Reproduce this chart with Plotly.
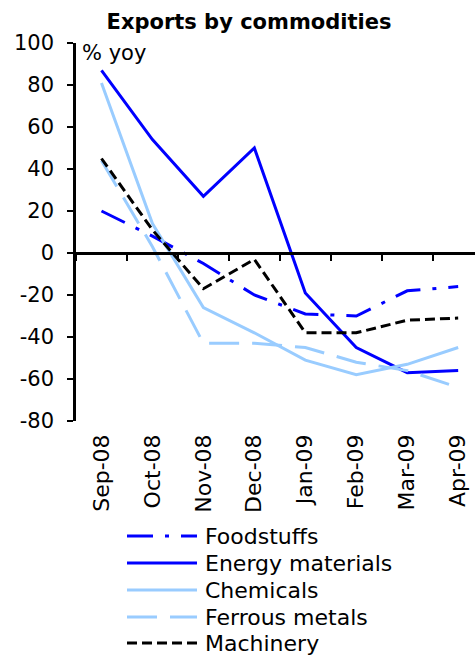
import plotly.graph_objects as go

# Monthly export growth by commodity group, % yoy
months = ["Sep-08", "Oct-08", "Nov-08", "Dec-08", "Jan-09", "Feb-09", "Mar-09", "Apr-09"]
foodstuffs = [20, 8, -5, -20, -29, -30, -18, -16]
energy = [87, 54, 27, 50, -19, -45, -57, -56]
chemicals = [81, 14, -26, -38, -51, -58, -53, -45]
ferrous = [44, 3, -43, -43, -45, -52, -56, -64]
machinery = [45, 11, -17, -3, -38, -38, -32, -31]
y_ticks = [-80, -60, -40, -20, 0, 20, 40, 60, 80, 100]

series_names = ["Foodstuffs", "Energy materials", "Chemicals", "Ferrous metals", "Machinery"]
series_values = [foodstuffs, energy, chemicals, ferrous, machinery]

BLUE = "#0000FF"
LIGHT = "#99CCFF"
styles = [
    dict(color=BLUE, width=3, dash="26px,12px,4px,12px"),
    dict(color=BLUE, width=3, dash="solid"),
    dict(color=LIGHT, width=3, dash="solid"),
    dict(color=LIGHT, width=3, dash="30px,13px"),
    dict(color="black", width=3, dash="10px,5px"),
]

FONT = "DejaVu Sans"
W, H = 475, 657
ML, MR, MT, MB = 76, 0, 43, 236
PW, PH = W - ML - MR, H - MT - MB
X_RANGE = [-0.5, 7.33]
Y_RANGE = [-80, 100]

xpos = list(range(len(months)))

fig = go.Figure()
for name, vals, st in zip(series_names, series_values, styles):
    fig.add_trace(go.Scatter(x=xpos, y=vals, name=name, mode="lines",
                             line=st, showlegend=False, hoverinfo="skip"))

# carrier trace for the overlay axis that draws the zero line
fig.add_trace(go.Scatter(x=xpos, y=[None] * len(xpos), xaxis="x2",
                         showlegend=False, hoverinfo="skip"))

zero_frac = (0 - Y_RANGE[0]) / (Y_RANGE[1] - Y_RANGE[0])

fig.update_layout(
    width=W, height=H,
    margin=dict(l=ML, r=MR, t=MT, b=MB, pad=0),
    paper_bgcolor="white", plot_bgcolor="white",
    font=dict(family=FONT, size=21, color="black"),
    showlegend=False,
    title=dict(text="<b>Exports by commodities</b>", x=249 / W, xanchor="center",
               y=1 - 22 / H, yanchor="middle", yref="container",
               font=dict(family=FONT, size=21, color="black")),
    xaxis=dict(range=X_RANGE, tickmode="array", tickvals=xpos, ticktext=months,
               tickangle=-90, showline=False, showgrid=False, zeroline=False,
               ticks="", ticklabelstandoff=8, fixedrange=True,
               tickfont=dict(family=FONT, size=22)),
    xaxis2=dict(range=X_RANGE, overlaying="x", anchor="free", position=zero_frac,
                side="bottom", showline=True, linecolor="black", linewidth=2.5,
                ticks="outside", ticklen=6, tickwidth=2, tickcolor="black",
                tickmode="array", tickvals=[v - 0.5 for v in xpos] + [len(xpos) - 0.5],
                showticklabels=False, showgrid=False, zeroline=False),
    yaxis=dict(range=Y_RANGE, tickmode="array", tickvals=y_ticks,
               ticktext=[str(v) for v in y_ticks],
               showline=True, linecolor="black",
               linewidth=2.5, ticks="outside", ticklen=6, tickwidth=2, tickcolor="black",
               showgrid=False, zeroline=False, ticklabelstandoff=9),
)

fig.add_annotation(text="% yoy", xref="paper", yref="paper", x=4 / PW, y=1.0 + 4 / PH,
                   xanchor="left", yanchor="top", showarrow=False,
                   font=dict(family=FONT, size=21, color="black"))

# legend drawn below the chart
row_y = [536, 563, 590, 617, 643]
line_x0, line_x1, text_x = 127, 197, 203
for name, st, py in zip(series_names, styles, row_y):
    yp = (H - MB - py) / PH
    fig.add_shape(type="line", xref="paper", yref="paper",
                  x0=(line_x0 - ML) / PW, x1=(line_x1 - ML) / PW, y0=yp, y1=yp,
                  line=dict(color=st["color"], width=st["width"], dash=st["dash"]))
    fig.add_annotation(text=name, xref="paper", yref="paper", x=(text_x - ML) / PW, y=yp,
                       xanchor="left", yanchor="middle", showarrow=False,
                       font=dict(family=FONT, size=22, color="black"))

fig.write_html("out.html")
